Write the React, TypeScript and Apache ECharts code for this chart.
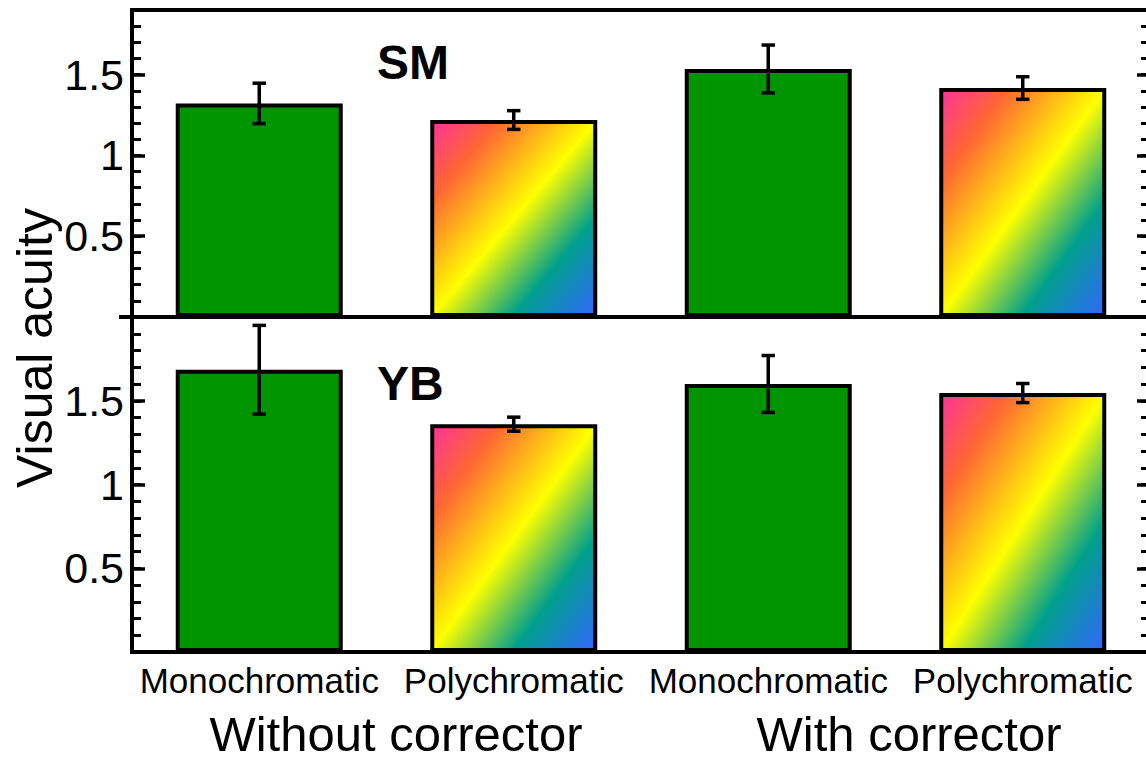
import React, { useEffect, useRef } from "react";
import * as echarts from "echarts";

const categories = ["Monochromatic", "Polychromatic", "Monochromatic", "Polychromatic"];
const groupLabels = ["Without corrector", "With corrector"];
const panelLabels = ["SM", "YB"];
const smValues = [1.322, 1.219, 1.535, 1.417];
const smErrors = [0.125, 0.058, 0.148, 0.07];
const ybValues = [1.685, 1.36, 1.6, 1.546];
const ybErrors = [0.265, 0.042, 0.17, 0.057];
const axisMax = [1.9, 2.0];
const majorTickLabels = [0.5, 1, 1.5];
const yTitle = "Visual acuity";

const FONT = "'Liberation Sans', Arial, sans-serif";
const GREEN = "#009400";

const rainbow = () =>
  new echarts.graphic.LinearGradient(0, 0, 1, 1, [
    { offset: 0, color: "#ff3399" },
    { offset: 0.2, color: "#ff6633" },
    { offset: 0.5, color: "#ffff00" },
    { offset: 0.75, color: "#00a08c" },
    { offset: 1, color: "#3366ff" },
  ]);

export default function App() {
  const ref = useRef<HTMLDivElement>(null);

  useEffect(() => {
    if (!ref.current) return;
    const chart = echarts.init(ref.current, null, { renderer: "svg" });

    const LEFT = 132;
    const WIDTH = 1018;
    const grids = [
      { left: LEFT, width: WIDTH, top: 10, height: 307 },
      { left: LEFT, width: WIDTH, top: 317, height: 335 },
    ];

    const gridOpts: any[] = [];
    grids.forEach((g) =>
      gridOpts.push({ ...g, show: true, borderColor: "#000", borderWidth: 4, backgroundColor: "transparent" })
    );
    grids.forEach((g) => gridOpts.push({ ...g, show: false }));

    const xAxes: any[] = [0, 1, 2, 3].map((i) => ({
      type: "category",
      gridIndex: i,
      data: categories,
      boundaryGap: true,
      axisLine: { show: false },
      axisTick: { show: false },
      splitLine: { show: false },
      axisLabel: {
        show: i === 1,
        interval: 0,
        fontSize: 35,
        fontFamily: FONT,
        color: "#000",
        margin: 11,
      },
    }));

    const yAxes: any[] = [];
    [0, 1].forEach((gi) => {
      ["left", "right"].forEach((pos) => {
        yAxes.push({
          type: "value",
          gridIndex: gi,
          position: pos,
          min: 0,
          max: axisMax[gi],
          interval: 0.5,
          axisLine: { show: false },
          splitLine: { show: false },
          axisTick: { show: true, inside: true, length: 13, lineStyle: { color: "#000", width: 3.5 } },
          axisLabel: {
            show: pos === "left",
            fontSize: 43,
            fontFamily: FONT,
            color: "#000",
            margin: 8,
            padding: [16, 0, 0, 0],
            formatter: (v: number) =>
              majorTickLabels.some((m) => Math.abs(m - v) < 1e-6) ? String(v) : "",
          },
        });
      });
    });
    [0, 1].forEach((gi) => {
      ["left", "right"].forEach((pos) => {
        yAxes.push({
          type: "value",
          gridIndex: gi + 2,
          position: pos,
          min: 0,
          max: axisMax[gi],
          interval: 0.1,
          axisLine: { show: false },
          splitLine: { show: false },
          axisLabel: { show: false },
          axisTick: { show: true, inside: true, length: 9, lineStyle: { color: "#000", width: 3 } },
        });
      });
    });

    const barData = (vals: number[]) =>
      vals.map((v, i) => ({
        value: v,
        itemStyle: {
          color: i % 2 === 0 ? GREEN : rainbow(),
          borderColor: "#000",
          borderWidth: 4,
        },
      }));

    const errData = (vals: number[], errs: number[]) =>
      vals.map((v, i) => [i, v - errs[i], v + errs[i]]);

    const renderErr = (params: any, api: any) => {
      const x = api.value(0);
      const top = api.coord([x, api.value(2)]);
      const bot = api.coord([x, api.value(1)]);
      const hw = 6.7;
      const st = { stroke: "#000", lineWidth: 3.5 };
      return {
        type: "group",
        children: [
          { type: "line", shape: { x1: top[0], y1: top[1], x2: bot[0], y2: bot[1] }, style: st },
          { type: "line", shape: { x1: top[0] - hw, y1: top[1], x2: top[0] + hw, y2: top[1] }, style: st },
          { type: "line", shape: { x1: bot[0] - hw, y1: bot[1], x2: bot[0] + hw, y2: bot[1] }, style: st },
        ],
      };
    };

    const series: any[] = [
      { type: "bar", xAxisIndex: 0, yAxisIndex: 0, barWidth: 167, data: barData(smValues), z: 2 },
      { type: "bar", xAxisIndex: 1, yAxisIndex: 2, barWidth: 167, data: barData(ybValues), z: 2 },
      {
        type: "custom",
        xAxisIndex: 0,
        yAxisIndex: 0,
        data: errData(smValues, smErrors),
        encode: { x: 0, y: [1, 2] },
        renderItem: renderErr,
        z: 5,
      },
      {
        type: "custom",
        xAxisIndex: 1,
        yAxisIndex: 2,
        data: errData(ybValues, ybErrors),
        encode: { x: 0, y: [1, 2] },
        renderItem: renderErr,
        z: 5,
      },
    ];

    chart.setOption({
      animation: false,
      backgroundColor: "#fff",
      grid: gridOpts,
      xAxis: xAxes,
      yAxis: yAxes,
      series,
      graphic: [
        {
          type: "line",
          shape: { x1: 119, y1: 317, x2: 132, y2: 317 },
          style: { stroke: "#000", lineWidth: 4 },
        },
        {
          type: "text",
          x: 377,
          y: 62,
          style: { text: panelLabels[0], font: `bold 48px ${FONT}`, fill: "#000", align: "left", verticalAlign: "middle" },
        },
        {
          type: "text",
          x: 377,
          y: 383,
          style: { text: panelLabels[1], font: `bold 48px ${FONT}`, fill: "#000", align: "left", verticalAlign: "middle" },
        },
        {
          type: "text",
          x: 396,
          y: 734,
          style: { text: groupLabels[0], font: `49px ${FONT}`, fill: "#000", align: "center", verticalAlign: "middle" },
        },
        {
          type: "text",
          x: 909,
          y: 734,
          style: { text: groupLabels[1], font: `49px ${FONT}`, fill: "#000", align: "center", verticalAlign: "middle" },
        },
        {
          type: "text",
          x: 35,
          y: 348,
          rotation: Math.PI / 2,
          style: { text: yTitle, font: `50px ${FONT}`, fill: "#000", align: "center", verticalAlign: "middle" },
        },
      ],
    });

    return () => chart.dispose();
  }, []);

  return (
    <div style={{ position: "fixed", left: 0, top: 0, width: 1146, height: 763, overflow: "hidden", background: "#fff" }}>
      <div ref={ref} style={{ width: 1160, height: 763 }} />
    </div>
  );
}
